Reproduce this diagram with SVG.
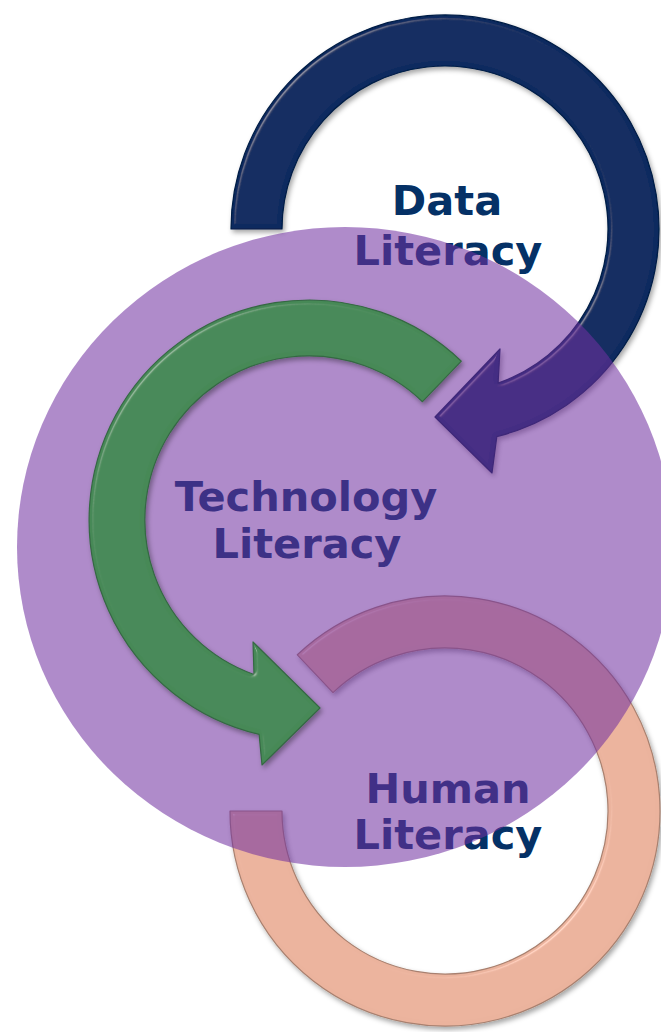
<svg xmlns="http://www.w3.org/2000/svg" width="661" height="1032" viewBox="0 0 661 1032">
  <defs>
    <style>
      .label { font-family: "DejaVu Sans", Verdana, sans-serif; font-weight: bold; font-size: 41.5px; text-anchor: middle; }
      .navy { fill: #053166; }
      .tech { fill: #3d3186; }
      .band { stroke-width: 1.2; stroke-linejoin: round; filter: url(#bevel); }
    </style>
    <!-- edge-only bevel highlight plus a drop shadow for the arrow bands -->
    <filter id="bevel" x="-10%" y="-10%" width="125%" height="125%">
      <feGaussianBlur in="SourceAlpha" stdDeviation="2" result="blur"/>
      <feSpecularLighting in="blur" surfaceScale="4" specularConstant="0.7" specularExponent="60" lighting-color="#ffffff" result="spec">
        <feDistantLight azimuth="225" elevation="50"/>
      </feSpecularLighting>
      <feComposite in="spec" in2="SourceAlpha" operator="in" result="specIn"/>
      <feComposite in="SourceGraphic" in2="specIn" operator="arithmetic" k1="0" k2="1" k3="0.35" k4="0" result="lit"/>
      <feGaussianBlur in="SourceAlpha" stdDeviation="2.5" result="sblur"/>
      <feOffset in="sblur" dx="2" dy="3" result="soff"/>
      <feFlood flood-color="#000" flood-opacity="0.35"/>
      <feComposite in2="soff" operator="in" result="shadow"/>
      <feMerge>
        <feMergeNode in="shadow"/>
        <feMergeNode in="lit"/>
      </feMerge>
    </filter>
  </defs>

  <!-- Data Literacy: dark blue circular arrow -->
  <g id="data-literacy">
    <path class="band" fill="#08295f" stroke="#061d45"
          d="M 231,229 A 214 214 0 1 1 496.8,436.6 L 492,473 L 435,417 L 500,349 L 498.1,383.1 A 163 163 0 1 0 282,229 Z"/>
    <text class="label navy" x="447" y="215">Data</text>
    <text class="label navy" x="448" y="265">Literacy</text>
  </g>

  <!-- Human Literacy: peach ring -->
  <g id="human-literacy">
    <path class="band" fill="#ebb39d" stroke="#a8806f"
          d="M 297.3,654.8 A 215 215 0 1 1 230,811 L 282,811 A 163 163 0 1 0 333,692.6 Z"/>
    <text class="label navy" x="448" y="803">Human</text>
    <text class="label navy" x="448" y="849">Literacy</text>
  </g>

  <!-- translucent purple focus disc -->
  <g id="focus-disc">
    <ellipse cx="345" cy="547" rx="328" ry="320" fill="#7030a0" fill-opacity="0.56"/>
  </g>

  <!-- Technology Literacy: green circular arrow -->
  <g id="technology-literacy">
    <path class="band" fill="#468957" stroke="#356843"
          d="M 461.3,361.2 A 220 220 0 1 0 259.1,734.3 L 262,765 L 320,708 L 253,642 L 254,674.5 A 164 164 0 1 1 422.5,401.7 Z"/>
    <text class="label tech" x="306" y="511">Technology</text>
    <text class="label tech" x="307" y="558">Literacy</text>
  </g>
</svg>
